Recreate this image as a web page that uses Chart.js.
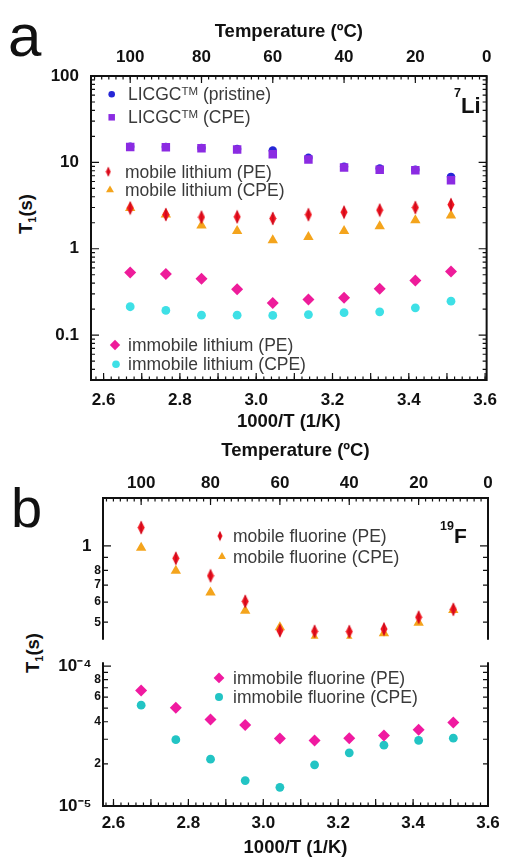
<!DOCTYPE html>
<html>
<head>
<meta charset="utf-8">
<script src="https://cdn.jsdelivr.net/npm/chart.js@4.4.1/dist/chart.umd.min.js"></script>
<style>
  html, body { margin: 0; padding: 0; background: #fff; }
  #wrap { position: relative; width: 507px; height: 865px; overflow: hidden; font-family: 'Liberation Sans', Arial, sans-serif; color: #111; }
  canvas { position: absolute; left: 0; }
  .panel { position: absolute; line-height: 1; }
  .ytitle { position: absolute; transform: translate(-50%, -50%) rotate(-90deg); font-weight: bold; font-size: 18.5px; white-space: nowrap; }
  .ytitle span { font-size: 11px; position: relative; top: 4px; }
</style>
</head>
<body>
<div id="wrap">
  <div class="panel" style="left:8px; top:6px; font-size:60px">a</div>
  <div class="panel" style="left:11px; top:480px; font-size:56px">b</div>
  <div class="ytitle" style="left:26px; top:214px">T<span>1</span>(s)</div>
  <div class="ytitle" style="left:33px; top:653px">T<span>1</span>(s)</div>
  <canvas id="chartA" width="507" height="440" style="top:0"></canvas>
  <canvas id="chartB1" width="507" height="221" style="top:430px"></canvas>
  <canvas id="chartB2" width="507" height="214" style="top:651px"></canvas>
</div>
<script>
// measurement temperatures (ºC), same for every series
const temperatures = [100, 90, 80, 70, 60, 50, 40, 30, 20, 10];

// panel a - 7Li T1 (s)
const licgcPristine = [15.2, 15.1, 14.7, 14.3, 13.7, 11.3, 8.9, 8.5, 8.2, 6.8];
const licgcCPE = [15.1, 15.0, 14.6, 14.1, 12.4, 10.8, 8.7, 8.2, 8.1, 6.2];
const mobileLiPE = [2.96, 2.49, 2.32, 2.34, 2.24, 2.48, 2.65, 2.80, 3.00, 3.24];
const mobileLiCPE = [2.96, 2.49, 1.86, 1.60, 1.25, 1.37, 1.60, 1.82, 2.13, 2.43];
const immobileLiPE = [0.53, 0.51, 0.45, 0.34, 0.236, 0.258, 0.27, 0.344, 0.43, 0.544];
const immobileLiCPE = [0.213, 0.193, 0.170, 0.170, 0.169, 0.173, 0.182, 0.186, 0.207, 0.247];

// panel b - 19F T1 (s), upper (mobile) and lower (immobile) part of the broken axis
const mobileFPE = [1.18, 0.893, 0.762, 0.604, 0.463, 0.460, 0.459, 0.470, 0.523, 0.562];
const mobileFCPE = [0.983, 0.798, 0.655, 0.555, 0.477, 0.433, 0.428, 0.452, 0.498, 0.559];
const immobileFPE = [6.7e-5, 5.03e-5, 4.15e-5, 3.79e-5, 3.03e-5, 2.94e-5, 3.05e-5, 3.19e-5, 3.50e-5, 3.95e-5];
const immobileFCPE = [5.25e-5, 2.98e-5, 2.16e-5, 1.52e-5, 1.36e-5, 1.97e-5, 2.40e-5, 2.72e-5, 2.94e-5, 3.05e-5];

// tick labels
const tempTicks = [100, 80, 60, 40, 20, 0];
const invTTicks = [2.6, 2.8, 3.0, 3.2, 3.4, 3.6];
const liTicks = [100, 10, 1, 0.1];
const fMobileTicks = [1, 0.8, 0.7, 0.6, 0.5];
const fImmobileTicks = [1e-4, 8e-5, 6e-5, 4e-5, 2e-5, 1e-5];

const FONT = "'Liberation Sans', Arial, sans-serif";
const INK = '#111';
const TEXT = '#3a3a3a';

function bold(size) { return { family: FONT, size: size, weight: 'bold' }; }

function steps(a, b, step) {
  const out = [];
  for (let v = a; v <= b + 1e-9; v += step) out.push(+v.toFixed(4));
  return out;
}

function logMinor(minExp, maxExp) {
  const out = [];
  for (let e = minExp; e <= maxExp; e++)
    for (let k = 2; k <= 9; k++) out.push(k * Math.pow(10, e));
  return out;
}

function narrowDiamond(w, h, fill, line) {
  const c = document.createElement('canvas');
  c.width = w; c.height = h;
  const g = c.getContext('2d');
  g.fillStyle = fill;
  g.beginPath();
  g.moveTo(w / 2, 0.5); g.lineTo(w - 0.5, h / 2); g.lineTo(w / 2, h - 0.5); g.lineTo(0.5, h / 2);
  g.closePath(); g.fill();
  g.strokeStyle = line; g.lineWidth = 1;
  g.beginPath(); g.moveTo(w / 2, 1.5); g.lineTo(w / 2, h - 1.5); g.stroke();
  return c;
}
const redDiamond = narrowDiamond(8, 15, '#f0141e', '#b4001a');
const redDiamondSmall = narrowDiamond(6, 11, '#f0141e', '#b4001a');

function series(label, values, style) {
  return Object.assign({
    label: label,
    data: temperatures.map((t, i) => ({ x: t, y: values[i] })),
    xAxisID: 'xTop', yAxisID: 'y', showLine: false, borderWidth: 0
  }, style);
}

// inward ticks and the box round the plot
const frameTicks = {
  id: 'frameTicks',
  beforeDatasetsDraw(chart, args, opts) {
    const { ctx, chartArea: a } = chart;
    ctx.save();
    ctx.strokeStyle = INK;
    ctx.lineWidth = 1.2;
    (opts.marks || []).forEach(m => {
      const s = chart.scales[m.scale];
      const lo = Math.min(s.min, s.max), hi = Math.max(s.min, s.max);
      m.values.forEach(v => {
        if (v < lo * (1 - 1e-9) || v > hi * (1 + 1e-9)) return;
        const p = s.getPixelForValue(v);
        ctx.beginPath();
        m.sides.forEach(side => {
          if (side === 'top') { ctx.moveTo(p, a.top); ctx.lineTo(p, a.top + m.len); }
          if (side === 'bottom') { ctx.moveTo(p, a.bottom); ctx.lineTo(p, a.bottom - m.len); }
          if (side === 'left') { ctx.moveTo(a.left, p); ctx.lineTo(a.left + m.len, p); }
          if (side === 'right') { ctx.moveTo(a.right, p); ctx.lineTo(a.right - m.len, p); }
        });
        ctx.stroke();
      });
    });
    ctx.lineWidth = 2;
    ctx.lineCap = 'square';
    ctx.beginPath();
    (opts.sides || []).forEach(side => {
      if (side === 'top') { ctx.moveTo(a.left, a.top); ctx.lineTo(a.right, a.top); }
      if (side === 'bottom') { ctx.moveTo(a.left, a.bottom); ctx.lineTo(a.right, a.bottom); }
      if (side === 'left') { ctx.moveTo(a.left, a.top); ctx.lineTo(a.left, a.bottom); }
      if (side === 'right') { ctx.moveTo(a.right, a.top); ctx.lineTo(a.right, a.bottom); }
    });
    ctx.stroke();
    ctx.restore();
  }
};

function drawRuns(ctx, x, y, runs, color) {
  ctx.fillStyle = color;
  ctx.textBaseline = 'alphabetic';
  ctx.textAlign = 'left';
  runs.forEach(r => {
    ctx.font = (r.bold ? 'bold ' : '') + r.size + 'px ' + FONT;
    ctx.fillText(r.t, x, y + (r.dy || 0));
    x += ctx.measureText(r.t).width;
  });
}

// legend entries and nucleus labels inside the plot area
const inLabels = {
  id: 'inLabels',
  afterDatasetsDraw(chart, args, opts) {
    const { ctx, chartArea: a } = chart;
    ctx.save();
    (opts.items || []).forEach(it => {
      if (it.ds !== undefined) {
        const ds = chart.data.datasets[it.ds];
        ctx.fillStyle = ds.backgroundColor;
        ctx.strokeStyle = ds.backgroundColor;
        const px = a.left + it.mx, py = a.top + it.my;
        const style = it.style || ds.pointStyle;
        const radius = it.radius || ds.pointRadius;
        if (Chart.helpers && Chart.helpers.drawPoint) {
          Chart.helpers.drawPoint(ctx, { pointStyle: style, radius: radius, borderWidth: 0, rotation: 0 }, px, py);
        } else {
          ctx.beginPath(); ctx.arc(px, py, radius, 0, 2 * Math.PI); ctx.fill();
        }
        drawRuns(ctx, a.left + it.tx, py + 6, it.runs, TEXT);
      } else {
        drawRuns(ctx, a.left + it.x, a.top + it.y, it.runs, INK);
      }
    });
    ctx.restore();
  }
};

function tempAxis(height, titlePad, tickPad, show) {
  return {
    type: 'linear', position: 'top', min: 0, max: 111, reverse: true, bounds: 'data',
    display: show,
    grid: { display: false, drawTicks: false }, border: { display: false },
    ticks: { padding: tickPad, color: INK, font: bold(17), autoSkip: false, maxRotation: 0, callback: v => String(v) },
    title: { display: true, text: 'Temperature (ºC)', color: INK, font: bold(18.5), padding: { top: titlePad, bottom: 0 } },
    afterBuildTicks: s => { s.ticks = tempTicks.map(v => ({ value: v })); },
    afterFit: s => { s.height = height; }
  };
}

function invTAxis(min, max, height, tickPad, titlePad) {
  return {
    type: 'linear', position: 'bottom', min: min, max: max, bounds: 'data',
    grid: { display: false, drawTicks: false }, border: { display: false },
    ticks: { padding: tickPad, color: INK, font: bold(17), autoSkip: false, maxRotation: 0, callback: v => v.toFixed(1) },
    title: { display: true, text: '1000/T (1/K)', color: INK, font: bold(18.5), padding: { top: 0, bottom: titlePad } },
    afterBuildTicks: s => { s.ticks = invTTicks.map(v => ({ value: v })); },
    afterFit: s => { s.height = height; }
  };
}

function logAxis(min, max, width, tickValues, label, font, pad) {
  return {
    type: 'logarithmic', position: 'left', min: min, max: max, bounds: 'data',
    grid: { display: false, drawTicks: false }, border: { display: false },
    ticks: { padding: pad, color: INK, font: font, autoSkip: false, callback: label },
    afterBuildTicks: s => { s.ticks = tickValues.map(v => ({ value: v })); },
    afterFit: s => { s.width = width; }
  };
}

const baseOptions = {
  responsive: false, animation: false, devicePixelRatio: 1, events: [],
  plugins: { legend: { display: false }, tooltip: { enabled: false } }
};

// ---- panel a ----
const dsA = [
  series('LICGC (CPE)', licgcCPE, { pointStyle: 'rect', pointRadius: 6, backgroundColor: '#8b2be2' }),
  series('LICGC (pristine)', licgcPristine, { pointStyle: 'circle', pointRadius: 4.2, backgroundColor: '#2626d6' }),
  series('mobile lithium (PE)', mobileLiPE, { pointStyle: redDiamond, pointRadius: 6, backgroundColor: '#f0141e' }),
  series('mobile lithium (CPE)', mobileLiCPE, { pointStyle: 'triangle', pointRadius: 6, backgroundColor: '#f4a41c' }),
  series('immobile lithium (PE)', immobileLiPE, { pointStyle: 'rectRot', pointRadius: 6, backgroundColor: '#ee1c9a' }),
  series('immobile lithium (CPE)', immobileLiCPE, { pointStyle: 'circle', pointRadius: 4.4, backgroundColor: '#3ee0e6' })
];

new Chart(document.getElementById('chartA'), {
  type: 'scatter',
  data: { datasets: dsA },
  options: Object.assign({}, baseOptions, {
    layout: { autoPadding: false, padding: { left: 0, right: 10, top: 0, bottom: 0 } },
    scales: {
      xTop: tempAxis(76, 21, 8, true),
      x: invTAxis(2.567, 3.604, 60, 10, 7),
      y: logAxis(0.0302, 100, 91, liTicks, v => String(v), bold(17), 12)
    },
    plugins: Object.assign({}, baseOptions.plugins, {
      frameTicks: {
        sides: ['top', 'right', 'bottom', 'left'],
        marks: [
          { scale: 'y', values: liTicks, len: 8, sides: ['left', 'right'] },
          { scale: 'y', values: logMinor(-2, 1), len: 4, sides: ['left', 'right'] },
          { scale: 'xTop', values: steps(0, 110, 20), len: 7, sides: ['top'] },
          { scale: 'xTop', values: steps(0, 110, 2), len: 3.5, sides: ['top'] },
          { scale: 'x', values: steps(2.6, 3.6, 0.1), len: 7, sides: ['bottom'] },
          { scale: 'x', values: steps(2.58, 3.6, 0.02), len: 3.5, sides: ['bottom'] }
        ]
      },
      inLabels: {
        items: [
          { ds: 1, mx: 20.7, my: 18.3, tx: 37, radius: 3.3, runs: [{ t: 'LICGC', size: 17.5 }, { t: 'TM', size: 11.5, dy: -5.5 }, { t: ' (pristine)', size: 17.5 }] },
          { ds: 0, mx: 20.7, my: 41.3, tx: 37, radius: 4.6, runs: [{ t: 'LICGC', size: 17.5 }, { t: 'TM', size: 11.5, dy: -5.5 }, { t: ' (CPE)', size: 17.5 }] },
          { ds: 2, mx: 17.3, my: 95.7, tx: 34, style: redDiamondSmall, runs: [{ t: 'mobile lithium (PE)', size: 17.5 }] },
          { ds: 3, mx: 19, my: 114, tx: 34, radius: 4.6, runs: [{ t: 'mobile lithium (CPE)', size: 17.5 }] },
          { ds: 4, mx: 24, my: 269, tx: 37, radius: 5.2, runs: [{ t: 'immobile lithium (PE)', size: 17.5 }] },
          { ds: 5, mx: 25, my: 288.3, tx: 37, radius: 3.8, runs: [{ t: 'immobile lithium (CPE)', size: 17.5 }] },
          { x: 363, y: 37, runs: [{ t: '7', size: 12.5, dy: -16, bold: true }, { t: 'Li', size: 22, bold: true }] }
        ]
      }
    })
  }),
  plugins: [frameTicks, inLabels]
});

// ---- panel b, upper part (mobile fluorine) ----
const dsB1 = [
  series('mobile fluorine (PE)', mobileFPE, { pointStyle: redDiamond, pointRadius: 6, backgroundColor: '#f0141e' }),
  series('mobile fluorine (CPE)', mobileFCPE, { pointStyle: 'triangle', pointRadius: 6, backgroundColor: '#f4a41c' })
];

new Chart(document.getElementById('chartB1'), {
  type: 'scatter',
  data: { datasets: dsB1 },
  options: Object.assign({}, baseOptions, {
    layout: { autoPadding: false, padding: { left: 0, right: 19, top: 0, bottom: 6 } },
    scales: {
      xTop: tempAxis(68, 10, 4, true),
      y: logAxis(0.430, 1.544, 103, fMobileTicks,
        v => (Math.abs(v - 1) < 1e-9 ? '1  ' : String(Math.round(v * 10))),
        ctx => bold(ctx.tick && Math.abs(ctx.tick.value - 1) < 1e-9 ? 17 : 12), 2)
    },
    plugins: Object.assign({}, baseOptions.plugins, {
      frameTicks: {
        sides: ['top', 'left', 'right'],
        marks: [
          { scale: 'y', values: [1], len: 8, sides: ['left', 'right'] },
          { scale: 'y', values: [0.5, 0.6, 0.7, 0.8, 0.9], len: 5, sides: ['left', 'right'] },
          { scale: 'xTop', values: steps(0, 110, 20), len: 7, sides: ['top'] },
          { scale: 'xTop', values: steps(0, 110, 2), len: 3.5, sides: ['top'] }
        ]
      },
      inLabels: {
        items: [
          { ds: 0, mx: 117, my: 38, tx: 130, style: redDiamondSmall, runs: [{ t: 'mobile fluorine (PE)', size: 17.5 }] },
          { ds: 1, mx: 119, my: 58.7, tx: 130, radius: 4.6, runs: [{ t: 'mobile fluorine (CPE)', size: 17.5 }] },
          { x: 337, y: 45, runs: [{ t: '19', size: 12.5, dy: -13, bold: true }, { t: 'F', size: 21, bold: true }] }
        ]
      }
    })
  }),
  plugins: [frameTicks, inLabels]
});

// ---- panel b, lower part (immobile fluorine) ----
const dsB2 = [
  series('immobile fluorine (PE)', immobileFPE, { pointStyle: 'rectRot', pointRadius: 6, backgroundColor: '#f01aa0' }),
  series('immobile fluorine (CPE)', immobileFCPE, { pointStyle: 'circle', pointRadius: 4.4, backgroundColor: '#22c4c4' })
];

new Chart(document.getElementById('chartB2'), {
  type: 'scatter',
  data: { datasets: dsB2 },
  options: Object.assign({}, baseOptions, {
    layout: { autoPadding: false, padding: { left: 0, right: 19, top: 6, bottom: 0 } },
    scales: {
      xTop: tempAxis(0, 0, 0, false),
      x: invTAxis(2.572, 3.600, 59, 7, 6),
      y: logAxis(1e-5, 1.048e-4, 103, fImmobileTicks,
        v => {
          if (Math.abs(v - 1e-4) < 1e-12) return '10⁻⁴  ';
          if (Math.abs(v - 1e-5) < 1e-12) return '10⁻⁵  ';
          return String(Math.round(v * 1e5));
        },
        ctx => {
          const v = ctx.tick ? ctx.tick.value : 0;
          const big = Math.abs(v - 1e-4) < 1e-12 || Math.abs(v - 1e-5) < 1e-12;
          return bold(big ? 17 : 12);
        }, 2)
    },
    plugins: Object.assign({}, baseOptions.plugins, {
      frameTicks: {
        sides: ['bottom', 'left', 'right'],
        marks: [
          { scale: 'y', values: [1e-5, 1e-4], len: 8, sides: ['left', 'right'] },
          { scale: 'y', values: logMinor(-5, -5), len: 5, sides: ['left', 'right'] },
          { scale: 'x', values: steps(2.6, 3.6, 0.1), len: 7, sides: ['bottom'] },
          { scale: 'x', values: steps(2.58, 3.6, 0.02), len: 3.5, sides: ['bottom'] }
        ]
      },
      inLabels: {
        items: [
          { ds: 0, mx: 116, my: 14.7, tx: 130, radius: 5.4, runs: [{ t: 'immobile fluorine (PE)', size: 17.5 }] },
          { ds: 1, mx: 116, my: 33.7, tx: 130, radius: 4, runs: [{ t: 'immobile fluorine (CPE)', size: 17.5 }] }
        ]
      }
    })
  }),
  plugins: [frameTicks, inLabels]
});
</script>
</body>
</html>
